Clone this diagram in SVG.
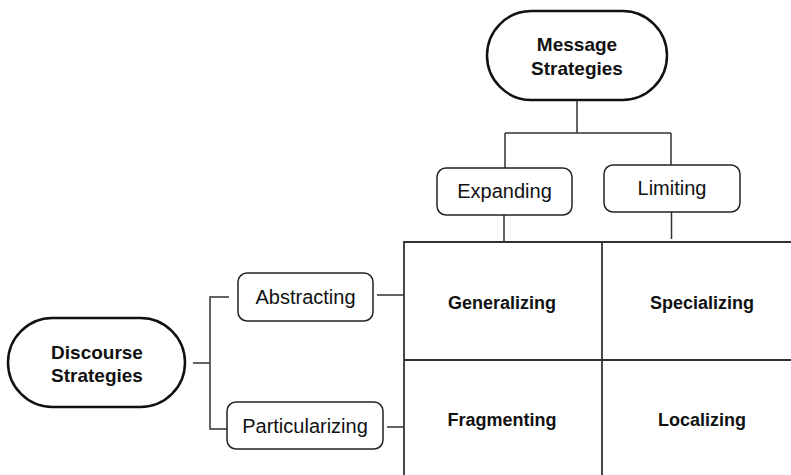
<svg xmlns="http://www.w3.org/2000/svg" width="791" height="475" viewBox="0 0 791 475">
<style>
.pill{fill:#fff;stroke:#111;stroke-width:2.5}
.box{fill:#fff;stroke:#222;stroke-width:1.5}
.ln{fill:none;stroke:#333;stroke-width:1.5}
.grid{fill:none;stroke:#333;stroke-width:1.8}
.tb{font-family:"Liberation Sans",Arial,sans-serif;font-weight:bold;fill:#111;text-anchor:middle}
.tr{font-family:"Liberation Sans",Arial,sans-serif;font-size:20px;fill:#111;text-anchor:middle}
</style>
<rect width="791" height="475" fill="#fff"/>
<g id="connectors">
<path class="ln" d="M577 100V133M505 133H671M505 133V168M671 133V165"/>
<path class="ln" d="M504 215V242M671.5 212V239"/>
<path class="ln" d="M193 363H210M229 297H210V429H229"/>
<path class="ln" d="M377 295H404M387 427H404"/>
</g>
<g id="grid">
<path class="grid" d="M404 475V242H791M404 360H791"/>
<path class="grid" d="M602 242V475" stroke-width="2.5"/>
</g>
<g id="message-strategies">
<rect class="pill" x="487" y="11" width="180" height="89" rx="44.5"/>
<text class="tb" font-size="19" x="577" y="51">Message</text>
<text class="tb" font-size="19" x="577" y="75">Strategies</text>
</g>
<g id="expanding">
<rect class="box" x="437" y="168" width="135" height="47" rx="9"/>
<text class="tr" x="504.5" y="198">Expanding</text>
</g>
<g id="limiting">
<rect class="box" x="604" y="165" width="136" height="47" rx="9"/>
<text class="tr" x="672" y="195">Limiting</text>
</g>
<g id="discourse-strategies">
<rect class="pill" x="8" y="318" width="177" height="89" rx="44.5"/>
<text class="tb" font-size="19" x="97" y="359">Discourse</text>
<text class="tb" font-size="19" x="97" y="382">Strategies</text>
</g>
<g id="abstracting">
<rect class="box" x="238" y="273" width="135" height="48" rx="9"/>
<text class="tr" x="305.5" y="304">Abstracting</text>
</g>
<g id="particularizing">
<rect class="box" x="227" y="402" width="156" height="47" rx="9"/>
<text class="tr" x="305" y="433">Particularizing</text>
</g>
<g id="generalizing"><text class="tb" font-size="18" x="502" y="309">Generalizing</text></g>
<g id="specializing"><text class="tb" font-size="18" x="702" y="309">Specializing</text></g>
<g id="fragmenting"><text class="tb" font-size="18" x="502" y="426">Fragmenting</text></g>
<g id="localizing"><text class="tb" font-size="18" x="702" y="426">Localizing</text></g>
</svg>
